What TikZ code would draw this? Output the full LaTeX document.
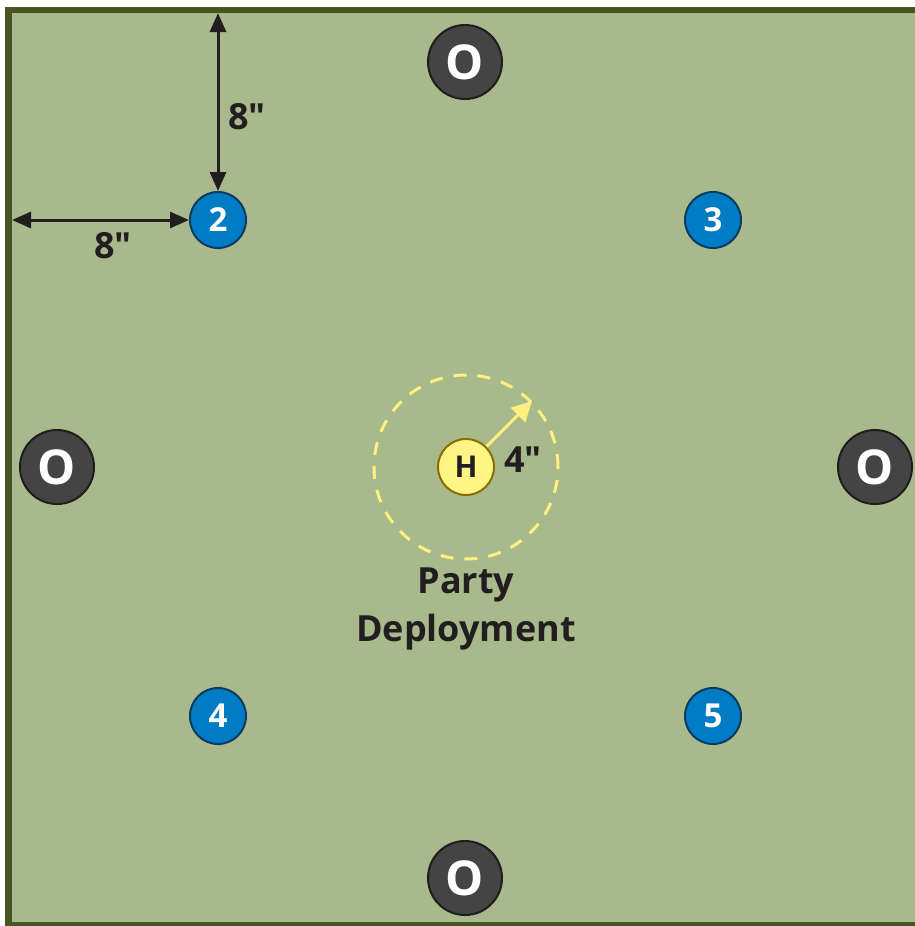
\documentclass[tikz,border=0pt]{standalone}
\usepackage{fontspec}
\newfontfamily\boardfont{Open Sans}
\usepackage{tikz}
\usetikzlibrary{arrows.meta}
\tikzset{>={Triangle[length=19pt,width=16pt]}}
\definecolor{felt}{RGB}{168,185,139}
\definecolor{feltedge}{RGB}{72,84,33}
\definecolor{objgrey}{RGB}{68,68,68}
\definecolor{objline}{RGB}{30,30,30}
\definecolor{markblue}{RGB}{0,124,196}
\definecolor{markline}{RGB}{12,58,98}
\definecolor{hqyellow}{RGB}{255,245,135}
\definecolor{hqline}{RGB}{140,108,0}
\definecolor{ringyellow}{RGB}{255,240,128}
\definecolor{ink}{RGB}{34,30,32}

\begin{document}
\begin{tikzpicture}[x=1pt,y=-1pt,
    objective/.style={circle,fill=objgrey,draw=objline,line width=2pt,minimum size=74pt,inner sep=0pt,
      text=white,font=\boardfont\bfseries\fontsize{48}{48}\selectfont},
    deploy/.style={circle,fill=markblue,draw=markline,line width=2pt,minimum size=56pt,inner sep=0pt,
      text=white,font=\boardfont\bfseries\fontsize{33}{33}\selectfont},
    hqmark/.style={circle,fill=hqyellow,draw=hqline,line width=2pt,minimum size=56pt,inner sep=0pt,
      text=ink,font=\boardfont\bfseries\fontsize{30}{30}\selectfont},
    rangering/.style={circle,draw=ringyellow,line width=3pt,dash pattern=on 13pt off 11pt,minimum size=184pt,inner sep=0pt},
    dimline/.style={<->,draw=ink,line width=3pt},
    dimtext/.style={text=ink,font=\boardfont\bfseries\fontsize{36}{36}\selectfont,inner sep=0pt},
    zonetext/.style={text=ink,font=\boardfont\bfseries\fontsize{36}{36}\selectfont,anchor=base},
  ]
  \useasboundingbox (0,0) rectangle (915,926);
  \clip (0,0) rectangle (915,926);

  % board
  \fill[white] (0,0) rectangle (915,926);
  \draw[fill=felt,draw=feltedge,line width=6.5pt] (8.5,10) rectangle (940,925);

  % objectives
  \node[objective] (otop) at (465,62) {O};
  \node[objective] (oleft) at (57,467) {O};
  \node[objective] (oright) at (875,467) {O};
  \node[objective] (obottom) at (465,878) {O};

  % deployment markers
  \node[deploy] (d2) at (218,220) {2};
  \node[deploy] (d3) at (713,220) {3};
  \node[deploy] (d4) at (218,716) {4};
  \node[deploy] (d5) at (713,716) {5};

  % party deployment zone
  \node[rangering] (ring) at (466,467) {};
  \node[hqmark] (hq) at (466,467) {H};
  \draw[-{Triangle[length=20pt,width=20pt]},draw=ringyellow,fill=ringyellow,line width=3pt] (hq) -- (ring.45);
  \node[dimtext] (rlabel) at (523,460) {4"};
  \node[zonetext] (party) at (466,593) {Party};
  \node[zonetext] (deploytxt) at (466,641) {Deployment};

  % distances from the edges
  \coordinate (topedge) at (218,13);
  \coordinate (leftedge) at (12,220);
  \draw[dimline] (topedge) -- (d2);
  \draw[dimline] (leftedge) -- (d2);
  \node[dimtext] (vlabel) at (247,117) {8"};
  \node[dimtext] (hlabel) at (113,246) {8"};
\end{tikzpicture}
\end{document}
